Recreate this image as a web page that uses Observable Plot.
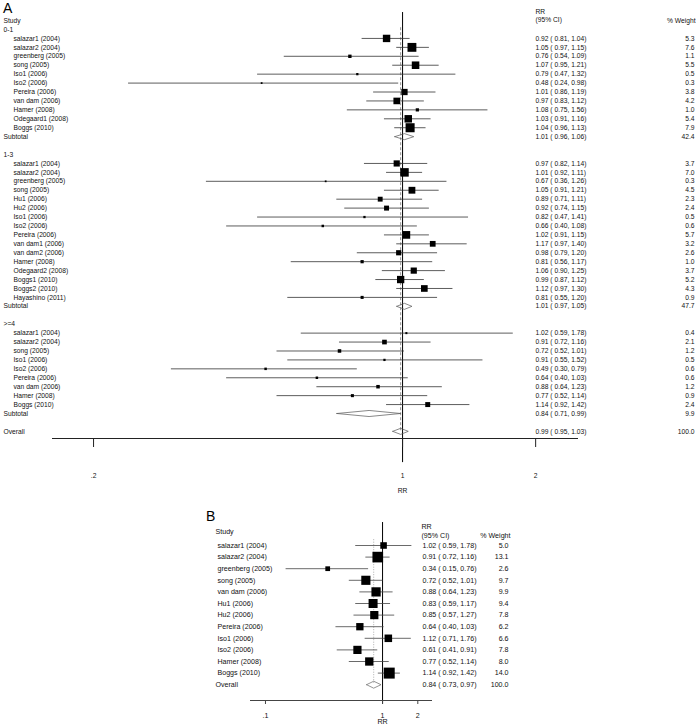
<!DOCTYPE html>
<html><head><meta charset="utf-8">
<script src="https://cdn.jsdelivr.net/npm/d3@7"></script>
<script src="https://cdn.jsdelivr.net/npm/@observablehq/plot@0.6"></script>
<style>
body{margin:0;background:#fff;}
#wrap{position:relative;width:696px;height:727px;font-family:"Liberation Sans",Arial,sans-serif;overflow:hidden;}
#panelA{position:absolute;left:0;top:0;}
#panelB{position:absolute;left:0;top:500px;}
.letter{position:absolute;font-size:14px;line-height:14px;color:#000;}
</style></head><body>
<div id="wrap">
<div id="panelA"></div>
<div id="panelB"></div>
<div class="letter" style="left:3px;top:1px">A</div>
<div class="letter" style="left:206px;top:509px">B</div>
</div>
<script>
// ---------- Panel A data ----------
const groupLabels = ["0-1", "1-3", ">=4"];

const g1Study = ["salazar1 (2004)", "salazar2 (2004)", "greenberg (2005)", "song (2005)", "Iso1 (2006)", "Iso2 (2006)", "Pereira (2006)", "van dam (2006)", "Hamer (2008)", "Odegaard1 (2008)", "Boggs (2010)"];
const g1RR = [0.92, 1.05, 0.76, 1.07, 0.79, 0.48, 1.01, 0.97, 1.08, 1.03, 1.04];
const g1Lo = [0.81, 0.97, 0.54, 0.95, 0.47, 0.24, 0.86, 0.83, 0.75, 0.91, 0.96];
const g1Hi = [1.04, 1.15, 1.09, 1.21, 1.32, 0.98, 1.19, 1.12, 1.56, 1.16, 1.13];
const g1Weight = [5.3, 7.6, 1.1, 5.5, 0.5, 0.3, 3.8, 4.2, 1.0, 5.4, 7.9];

const g2Study = ["salazar1 (2004)", "salazar2 (2004)", "greenberg (2005)", "song (2005)", "Hu1 (2006)", "Hu2 (2006)", "Iso1 (2006)", "Iso2 (2006)", "Pereira (2006)", "van dam1 (2006)", "van dam2 (2006)", "Hamer (2008)", "Odegaard2 (2008)", "Boggs1 (2010)", "Boggs2 (2010)", "Hayashino (2011)"];
const g2RR = [0.97, 1.01, 0.67, 1.05, 0.89, 0.92, 0.82, 0.66, 1.02, 1.17, 0.98, 0.81, 1.06, 0.99, 1.12, 0.81];
const g2Lo = [0.82, 0.92, 0.36, 0.91, 0.71, 0.74, 0.47, 0.40, 0.91, 0.97, 0.79, 0.56, 0.90, 0.87, 0.97, 0.55];
const g2Hi = [1.14, 1.11, 1.26, 1.21, 1.11, 1.15, 1.41, 1.08, 1.15, 1.40, 1.20, 1.17, 1.25, 1.12, 1.30, 1.20];
const g2Weight = [3.7, 7.0, 0.3, 4.5, 2.3, 2.4, 0.5, 0.6, 5.7, 3.2, 2.6, 1.0, 3.7, 5.2, 4.3, 0.9];

const g3Study = ["salazar1 (2004)", "salazar2 (2004)", "song (2005)", "Iso1 (2006)", "Iso2 (2006)", "Pereira (2006)", "van dam (2006)", "Hamer (2008)", "Boggs (2010)"];
const g3RR = [1.02, 0.91, 0.72, 0.91, 0.49, 0.64, 0.88, 0.77, 1.14];
const g3Lo = [0.59, 0.72, 0.52, 0.55, 0.30, 0.40, 0.64, 0.52, 0.92];
const g3Hi = [1.78, 1.16, 1.01, 1.52, 0.79, 1.03, 1.23, 1.14, 1.42];
const g3Weight = [0.4, 2.1, 1.2, 0.5, 0.6, 0.6, 1.2, 0.9, 2.4];

const subtotalRR = [1.01, 1.01, 0.84];
const subtotalLo = [0.96, 0.97, 0.71];
const subtotalHi = [1.06, 1.05, 0.99];
const subtotalWeight = [42.4, 47.7, 9.9];

const overallA = [0.99, 0.95, 1.03];
const overallWeightA = 100.0;

const ticksA = [0.2, 1, 2];
const tickLabelsA = [".2", "1", "2"];

// ---------- Panel B data ----------
const bStudy = ["salazar1 (2004)", "salazar2 (2004)", "greenberg (2005)", "song (2005)", "van dam (2006)", "Hu1 (2006)", "Hu2 (2006)", "Pereira (2006)", "Iso1 (2006)", "Iso2 (2006)", "Hamer (2008)", "Boggs (2010)"];
const bRR = [1.02, 0.91, 0.34, 0.72, 0.88, 0.83, 0.85, 0.64, 1.12, 0.61, 0.77, 1.14];
const bLo = [0.59, 0.72, 0.15, 0.52, 0.64, 0.59, 0.57, 0.40, 0.71, 0.41, 0.52, 0.92];
const bHi = [1.78, 1.16, 0.76, 1.01, 1.23, 1.17, 1.27, 1.03, 1.76, 0.91, 1.14, 1.42];
const bWeight = [5.0, 13.1, 2.6, 9.7, 9.9, 9.4, 7.8, 6.2, 6.6, 7.8, 8.0, 14.0];

const overallB = [0.84, 0.73, 0.97];
const overallWeightB = 100.0;

const ticksB = [0.1, 1, 2];
const tickLabelsB = [".1", "1", "2"];

// ---------- build rows ----------
const groupsA = [
  {label: groupLabels[0], study: g1Study, rr: g1RR, lo: g1Lo, hi: g1Hi, w: g1Weight},
  {label: groupLabels[1], study: g2Study, rr: g2RR, lo: g2Lo, hi: g2Hi, w: g2Weight},
  {label: groupLabels[2], study: g3Study, rr: g3RR, lo: g3Lo, hi: g3Hi, w: g3Weight}
];
const rowsA = [];
let r = 0;
groupsA.forEach((g, gi) => {
  rowsA.push({row: r++, label: g.label, kind: "header"});
  g.study.forEach((s, i) => rowsA.push({row: r++, label: s, kind: "study", rr: g.rr[i], lo: g.lo[i], hi: g.hi[i], w: g.w[i]}));
  rowsA.push({row: r++, label: "Subtotal", kind: "summary", rr: subtotalRR[gi], lo: subtotalLo[gi], hi: subtotalHi[gi], w: subtotalWeight[gi]});
  r++;
});
rowsA.push({row: r, label: "Overall", kind: "summary", rr: overallA[0], lo: overallA[1], hi: overallA[2], w: overallWeightA});

const rowsB = bStudy.map((s, i) => ({row: i + 1, label: s, kind: "study", rr: bRR[i], lo: bLo[i], hi: bHi[i], w: bWeight[i]}));
rowsB.push({row: bStudy.length + 1, label: "Overall", kind: "summary", rr: overallB[0], lo: overallB[1], hi: overallB[2], w: overallWeightB});

const fmtCI = d => `${d.rr.toFixed(2)} ( ${d.lo.toFixed(2)}, ${d.hi.toFixed(2)})`;
const fmtW = d => d.w.toFixed(1);

function diamonds(rows, h) {
  return rows.filter(d => d.kind === "summary").flatMap(d => [
    {id: d.row, x: d.lo, y: d.row},
    {id: d.row, x: d.rr, y: d.row - h},
    {id: d.row, x: d.hi, y: d.row},
    {id: d.row, x: d.rr, y: d.row + h},
    {id: d.row, x: d.lo, y: d.row}
  ]);
}

const font = "Liberation Sans, Arial, sans-serif";

// ---------- Panel A ----------
const fsA = 6.7;
const yDomA = [-2, 45.8];
const studiesA = rowsA.filter(d => d.kind === "study");
const valuedA = rowsA.filter(d => d.rr != null);

const plotA = Plot.plot({
  width: 696, height: 500,
  marginLeft: 52, marginRight: 118, marginTop: 11.14, marginBottom: 62,
  x: {type: "log", domain: [0.1615, 2.5], label: null},
  y: {domain: yDomA, reverse: true, axis: null},
  r: {range: [0, 5.1]},
  style: {fontFamily: font, fontSize: fsA + "px", color: "#111", background: "white", overflow: "visible"},
  marks: [
    Plot.ruleX([overallA[0]], {y1: -0.2, y2: 45, stroke: "#777", strokeWidth: 0.8, strokeDasharray: "3,2"}),
    Plot.ruleX([1], {y1: -1.9, y2: 48.5, stroke: "#000", strokeWidth: 1}),
    Plot.ruleY([yDomA[1]], {stroke: "#222", strokeWidth: 1}),
    Plot.axisX({ticks: ticksA, tickFormat: d => tickLabelsA[ticksA.indexOf(d)], tickSize: 9, tickPadding: 26, fontSize: fsA, stroke: "#222", label: null}),
    Plot.ruleY(studiesA, {y: "row", x1: "lo", x2: "hi", stroke: "#333", strokeWidth: 0.8}),
    Plot.dot(studiesA, {x: "rr", y: "row", r: "w", symbol: "square", fill: "#000", stroke: null}),
    Plot.line(diamonds(rowsA, 0.34), {x: "x", y: "y", z: "id", stroke: "#555", strokeWidth: 0.7}),
    Plot.text(studiesA, {y: "row", text: "label", frameAnchor: "left", textAnchor: "start", dx: -39, fontSize: fsA}),
    Plot.text(rowsA.filter(d => d.kind !== "study"), {y: "row", text: "label", frameAnchor: "left", textAnchor: "start", dx: -49, fontSize: fsA}),
    Plot.text(["Study"], {y: () => -1, frameAnchor: "left", textAnchor: "start", dx: -49, fontSize: fsA}),
    Plot.text(valuedA, {y: "row", text: fmtCI, frameAnchor: "left", textAnchor: "start", dx: 483, fontSize: fsA}),
    Plot.text(valuedA, {y: "row", text: fmtW, frameAnchor: "right", textAnchor: "end", dx: 116, fontSize: fsA}),
    Plot.text(["RR"], {y: () => -2, frameAnchor: "left", textAnchor: "start", dx: 483, fontSize: fsA}),
    Plot.text(["(95% CI)"], {y: () => -1.1, frameAnchor: "left", textAnchor: "start", dx: 483, fontSize: fsA}),
    Plot.text(["% Weight"], {y: () => -1, frameAnchor: "right", textAnchor: "end", dx: 117, fontSize: fsA}),
    Plot.text(["RR"], {x: () => 1, frameAnchor: "bottom", dy: 54, fontSize: fsA})
  ]
});
document.getElementById("panelA").appendChild(plotA);

// ---------- Panel B ----------
const fsB = 7.1;
const yDomB = [-1.6, 14.362];
const studiesB = rowsB.filter(d => d.kind === "study");

const plotB = Plot.plot({
  width: 696, height: 227,
  marginLeft: 250, marginRight: 264, marginTop: 14.84, marginBottom: 27,
  x: {type: "log", domain: [0.0745, 2.67], label: null},
  y: {domain: yDomB, reverse: true, axis: null},
  r: {range: [0, 6.2]},
  style: {fontFamily: font, fontSize: fsB + "px", color: "#111", background: "white", overflow: "visible"},
  marks: [
    Plot.ruleX([overallB[0]], {y1: 0.5, y2: 13, stroke: "#999", strokeWidth: 0.8, strokeDasharray: "1,1.5"}),
    Plot.ruleX([1], {y1: -0.98, y2: 14.7, stroke: "#000", strokeWidth: 1}),
    Plot.ruleY([yDomB[1]], {stroke: "#444", strokeWidth: 1}),
    Plot.axisX({ticks: ticksB, tickFormat: d => tickLabelsB[ticksB.indexOf(d)], tickSize: 4, tickPadding: 8, fontSize: fsB, stroke: "#444", label: null}),
    Plot.ruleY(studiesB, {y: "row", x1: "lo", x2: "hi", stroke: "#444", strokeWidth: 0.8}),
    Plot.dot(studiesB, {x: "rr", y: "row", r: "w", symbol: "square", fill: "#000", stroke: null}),
    Plot.line(diamonds(rowsB, 0.3), {x: "x", y: "y", z: "id", stroke: "#666", strokeWidth: 0.7}),
    Plot.text(studiesB, {y: "row", text: "label", frameAnchor: "left", textAnchor: "start", dx: -33, fontSize: fsB}),
    Plot.text(rowsB.filter(d => d.kind !== "study"), {y: "row", text: "label", frameAnchor: "left", textAnchor: "start", dx: -35, fontSize: fsB}),
    Plot.text(["Study"], {y: () => -0.2, frameAnchor: "left", textAnchor: "start", dx: -35, fontSize: fsB}),
    Plot.text(rowsB, {y: "row", text: fmtCI, frameAnchor: "left", textAnchor: "start", dx: 172, fontSize: fsB}),
    Plot.text(rowsB, {y: "row", text: fmtW, frameAnchor: "right", textAnchor: "end", dx: 76, fontSize: fsB}),
    Plot.text(["RR"], {y: () => -0.62, frameAnchor: "left", textAnchor: "start", dx: 171, fontSize: fsB}),
    Plot.text(["(95% CI)"], {y: () => 0.12, frameAnchor: "left", textAnchor: "start", dx: 171, fontSize: fsB}),
    Plot.text(["% Weight"], {y: () => 0.12, frameAnchor: "right", textAnchor: "end", dx: 78, fontSize: fsB}),
    Plot.text(["RR"], {x: () => 1, frameAnchor: "bottom", dy: 23.5, fontSize: fsB})
  ]
});
document.getElementById("panelB").appendChild(plotB);
</script>
</body></html>
